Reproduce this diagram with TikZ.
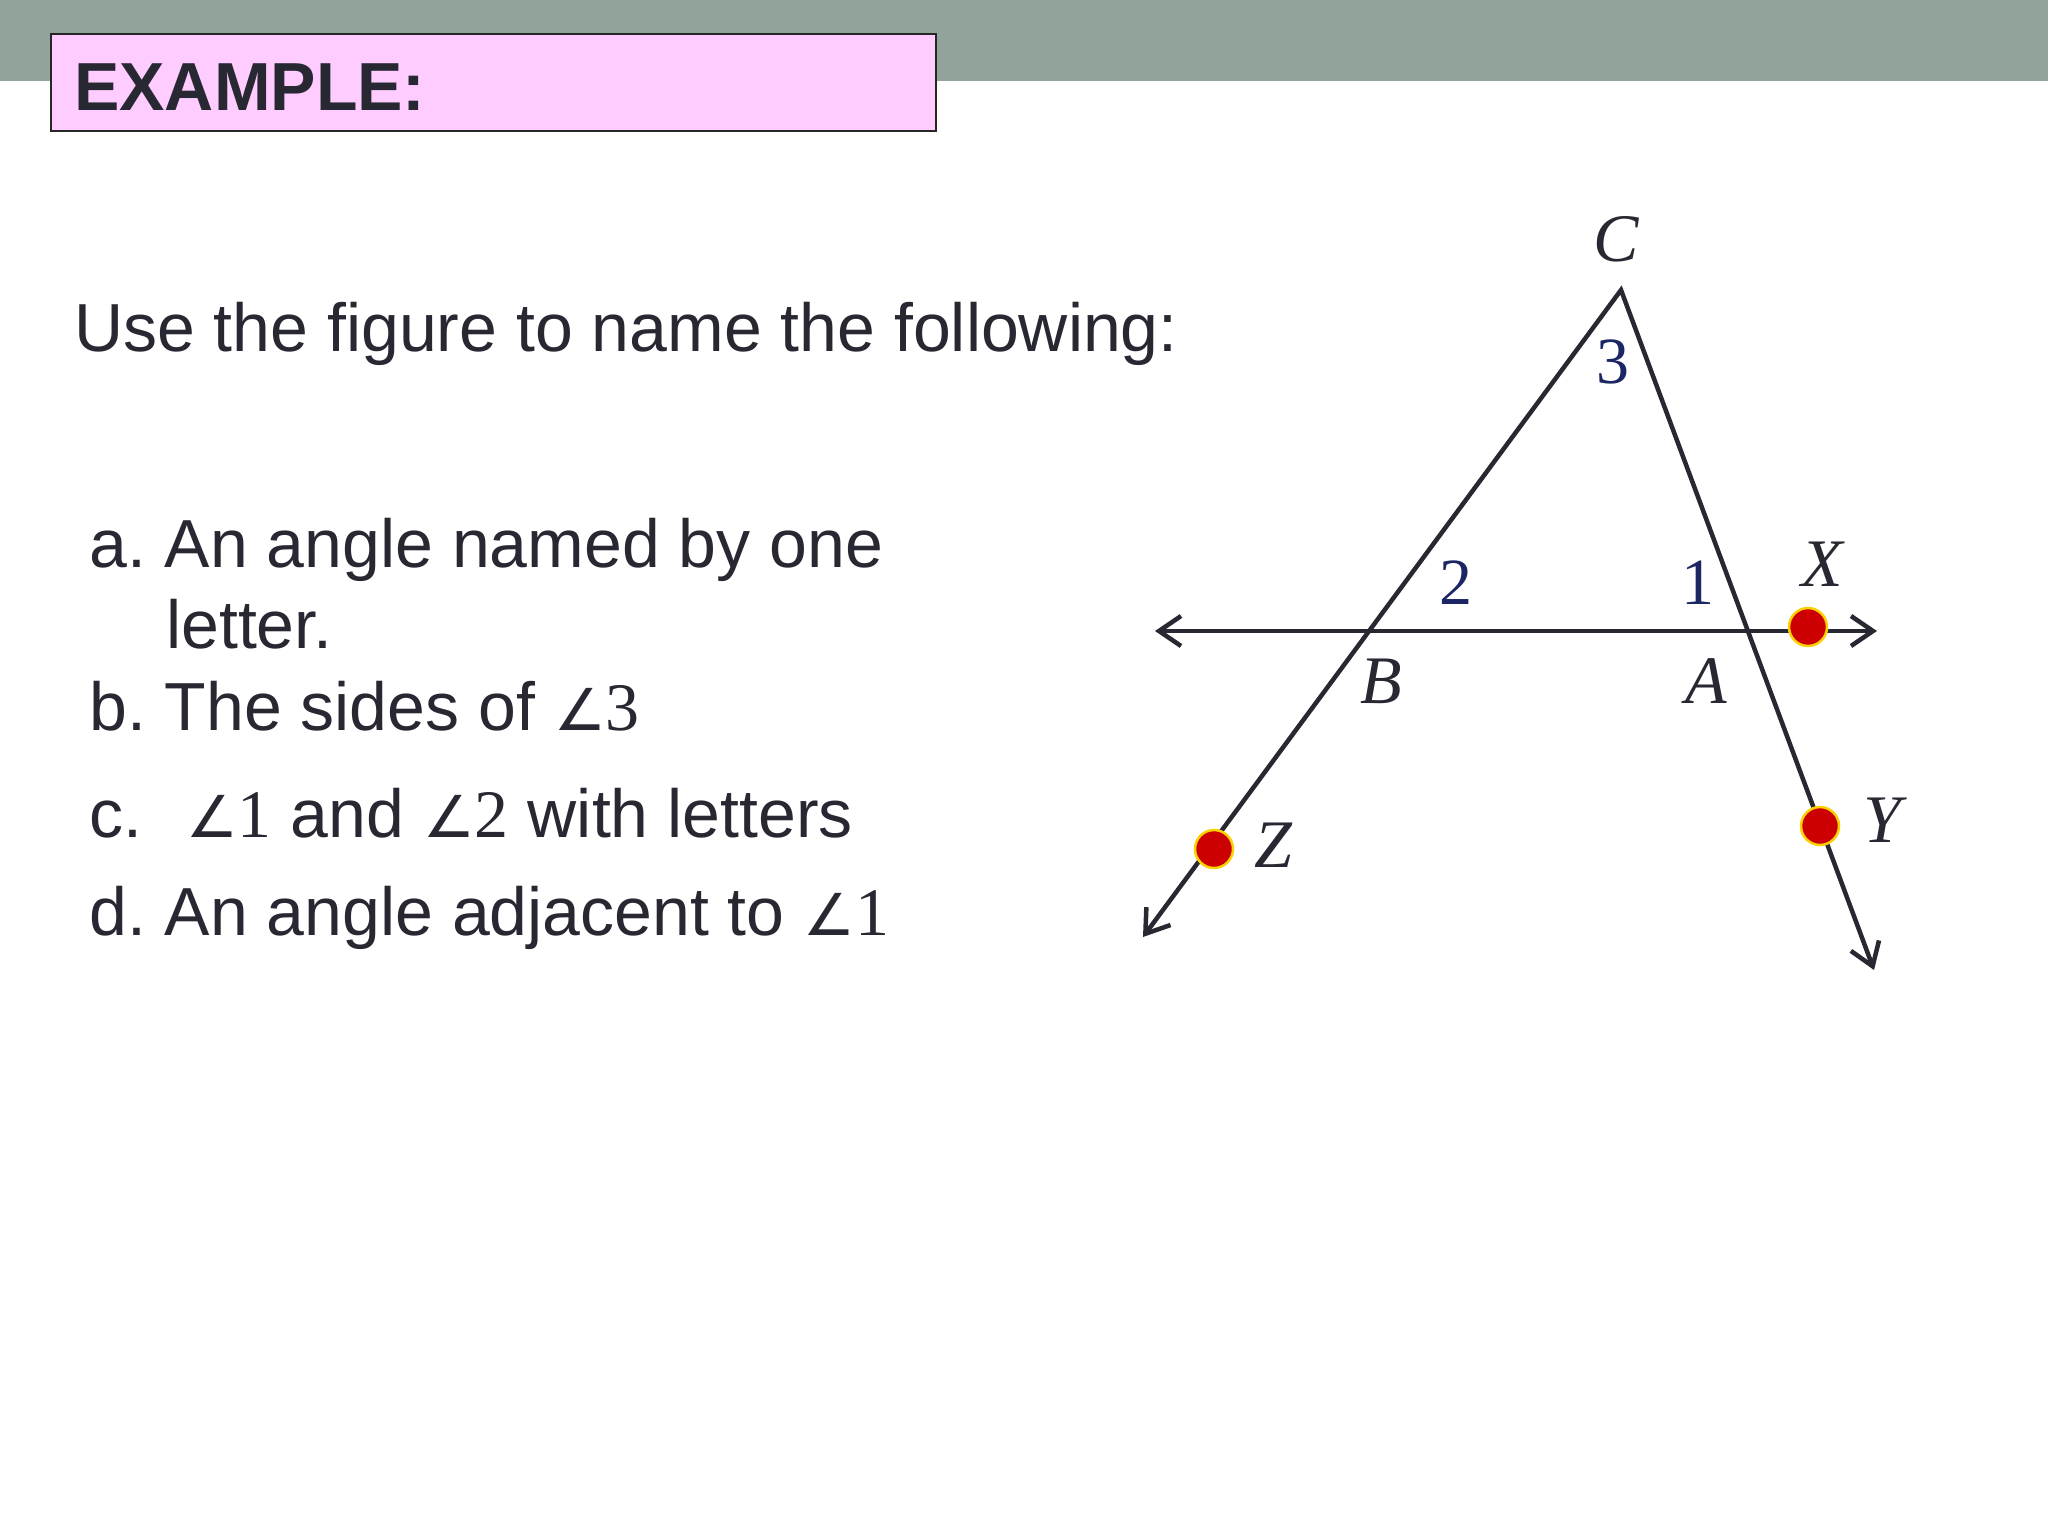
\documentclass[tikz,border=0pt]{standalone}
\usepackage{xcolor}
\usepackage{fontspec}
\setmainfont{Liberation Sans}
\newfontfamily\figfont{Liberation Serif}
\newfontfamily\symfont{DejaVu Sans}
\usetikzlibrary{arrows.meta}

\definecolor{band}{RGB}{145,163,154}
\definecolor{ink}{RGB}{40,40,50}
\definecolor{navy}{RGB}{28,38,100}

\newcommand{\angof}[1]{{\symfont\scalebox{0.85}{\char"2220}}{\figfont #1}}

\tikzset{
	slidetext/.style={anchor=base west, inner sep=0pt, text=ink, font=\fontsize{68}{80}\selectfont},
	ray/.style={draw=ink, line width=4.5pt, line join=miter},
	pointdot/.style={circle, inner sep=0pt, minimum size=38pt, fill=red!80!black, draw=yellow!70!orange, line width=2.5pt},
	ptlabel/.style={text=ink, font=\figfont\itshape\fontsize{68}{68}\selectfont},
	anglabel/.style={text=navy, font=\figfont\fontsize{66}{66}\selectfont}
}

\begin{document}
\frenchspacing
\begin{tikzpicture}[x=1pt, y=-1pt, >={Straight Barb[length=22pt,width=30pt]}]
	\useasboundingbox (0,0) rectangle (2048,1536);
	\fill[band] (0,0) rectangle (2048,81);
	\draw[fill={rgb,255:red,255;green,204;blue,255}, draw=black!85, line width=2pt] (51,34) rectangle (936,131);
	\node[slidetext, font=\bfseries\fontsize{68}{80}\selectfont] (head) at (74,111) {EXAMPLE:};

	\node[slidetext] (intro) at (74,351) {Use the figure to name the following:};
	\node[slidetext] (qa) at (89,567) {a. An angle named by one};
	\node[slidetext] (qa2) at (166,648) {letter.};
	\node[slidetext] (qb) at (89,730) {b. The sides of \angof{3}};
	\node[slidetext] (qc) at (89,837) {c.\hspace{44pt}\angof{1} and \angof{2} with letters};
	\node[slidetext] (qd) at (89,935) {d. An angle adjacent to \angof{1}};

	% the figure
	\coordinate (C) at (1621,290);
	\coordinate (B) at (1369,631);
	\coordinate (A) at (1748,631);
	\coordinate (zend) at (1143,937);
	\coordinate (yend) at (1874,970);
	\coordinate (lend) at (1155,631);
	\coordinate (rend) at (1877,631);
	\draw[ray, <->] (zend) -- (C) -- (yend);
	\draw[ray, <->] (lend) -- (rend);
	\node[pointdot] (X) at (1808,627) {};
	\node[pointdot] (Y) at (1820,826) {};
	\node[pointdot] (Z) at (1214,849) {};

	\node[ptlabel] (labC) at (1616,239) {C};
	\node[ptlabel] (labB) at (1381,681) {B};
	\node[ptlabel] (labA) at (1706,681) {A};
	\node[ptlabel] (labX) at (1822,564) {X};
	\node[ptlabel] (labY) at (1882,820) {Y};
	\node[ptlabel] (labZ) at (1273,845) {Z};
	\node[anglabel] (ang3) at (1613,362) {3};
	\node[anglabel] (ang2) at (1456,583) {2};
	\node[anglabel] (ang1) at (1698,583) {1};
\end{tikzpicture}
\end{document}
